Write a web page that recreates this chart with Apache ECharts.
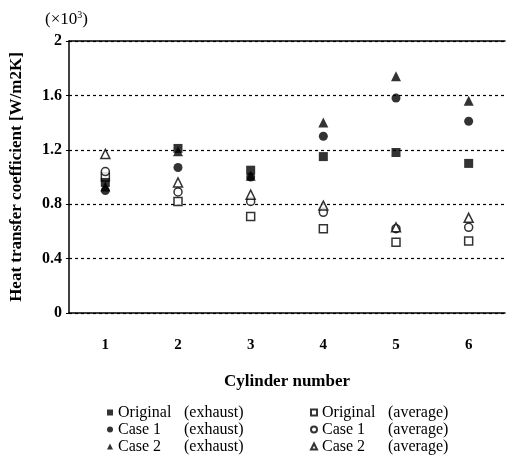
<!DOCTYPE html>
<html>
<head>
<meta charset="utf-8">
<script src="https://cdn.jsdelivr.net/npm/echarts@6/dist/echarts.min.js"></script>
<style>html,body{margin:0;padding:0;background:#fff}#c{width:507px;height:462px}</style>
</head>
<body>
<div id="c"></div>
<script>
var categories = ['1','2','3','4','5','6'];
var yTicks = [0, 0.4, 0.8, 1.2, 1.6, 2];
var originalExhaust = [0.96, 1.21, 1.05, 1.15, 1.18, 1.10];
var case1Exhaust   = [0.90, 1.07, 1.00, 1.30, 1.58, 1.41];
var case2Exhaust   = [0.93, 1.19, 1.01, 1.40, 1.74, 1.56];
var originalAverage = [1.00, 0.82, 0.71, 0.62, 0.52, 0.53];
var case1Average   = [1.04, 0.89, 0.82, 0.74, 0.62, 0.63];
var case2Average   = [1.17, 0.96, 0.87, 0.79, 0.63, 0.70];

var serif = '"Liberation Serif", "DejaVu Serif", serif';
var chart = echarts.init(document.getElementById('c'));

function mk(name, data, symbol, filled, size) {
  return {
    name: name, type: 'scatter', data: data, symbol: symbol, symbolSize: size,
    itemStyle: filled ? {color: '#000'} : {color: '#fff', borderColor: '#000', borderWidth: 1.5},
    z: filled ? 3 : 2
  };
}
function legendFmt(name) {
  var i = name.indexOf('(');
  return '{a|' + name.slice(0, i).trim() + '}{b|' + name.slice(i) + '}';
}
var legText = {fontFamily: serif, fontSize: 16, color: '#000', lineHeight: 17,
  rich: {a: {width: 66, fontFamily: serif, fontSize: 16, color: '#000'}, b: {fontFamily: serif, fontSize: 16, color: '#000'}}};

chart.setOption({
  animation: false,
  backgroundColor: '#fff',
  title: {
    text: '(×10{s|3})', left: 40, top: 5,
    textStyle: {fontFamily: serif, fontSize: 17, fontWeight: 'normal', color: '#000',
      rich: {s: {fontFamily: serif, fontSize: 10, verticalAlign: 'top', padding: [0,0,9,0], color: '#000'}}}
  },
  legend: [
    {data: ['Original (exhaust)', 'Case 1 (exhaust)', 'Case 2 (exhaust)'], orient: 'vertical',
     left: 102, top: 399, itemWidth: 6, itemHeight: 6, itemGap: 0, formatter: legendFmt, textStyle: legText},
    {data: ['Original (average)', 'Case 1 (average)', 'Case 2 (average)'], orient: 'vertical',
     left: 305, top: 399, itemWidth: 6, itemHeight: 6, itemGap: 0, formatter: legendFmt, textStyle: legText}
  ],
  grid: {left: 64, right: 2, top: 41, bottom: 149},
  xAxis: [{
    type: 'category', data: categories, boundaryGap: true,
    axisLine: {lineStyle: {color: '#000', width: 1.5}},
    axisTick: {inside: true, length: 4, lineStyle: {color: '#000'}},
    axisLabel: {fontFamily: serif, fontSize: 15, fontWeight: 'bold', color: '#000', margin: 25},
    name: 'Cylinder number', nameLocation: 'middle', nameGap: 60,
    nameTextStyle: {fontFamily: serif, fontSize: 17, fontWeight: 'bold', color: '#000'}
  }, {
    type: 'category', data: categories, position: 'top',
    axisLine: {show: true, lineStyle: {color: '#000', width: 1.5}},
    axisTick: {show: false}, axisLabel: {show: false}
  }],
  yAxis: {
    type: 'value', min: 0, max: 2, interval: 0.4,
    axisLine: {show: true, lineStyle: {color: '#000', width: 1.5}},
    axisTick: {show: true, length: 3, lineStyle: {color: '#000'}},
    axisLabel: {fontFamily: serif, fontSize: 16, fontWeight: 'bold', color: '#000', margin: 7,
      formatter: function (v) { return yTicks.indexOf(Math.round(v*10)/10) >= 0 ? String(Math.round(v*10)/10) : ''; }},
    splitLine: {show: true, lineStyle: {color: '#000', type: [3, 3], width: 1.2}},
    name: 'Heat transfer coefficient [W/m2K]', nameLocation: 'middle', nameGap: 44,
    nameTextStyle: {fontFamily: serif, fontSize: 17, fontWeight: 'bold', color: '#000'}
  },
  series: [
    mk('Original (exhaust)', originalExhaust, 'rect', true, 9),
    mk('Case 1 (exhaust)', case1Exhaust, 'circle', true, 9),
    mk('Case 2 (exhaust)', case2Exhaust, 'triangle', true, 10),
    mk('Original (average)', originalAverage, 'rect', false, 8),
    mk('Case 1 (average)', case1Average, 'circle', false, 8),
    mk('Case 2 (average)', case2Average, 'triangle', false, 9)
  ]
});
</script>
</body>
</html>
